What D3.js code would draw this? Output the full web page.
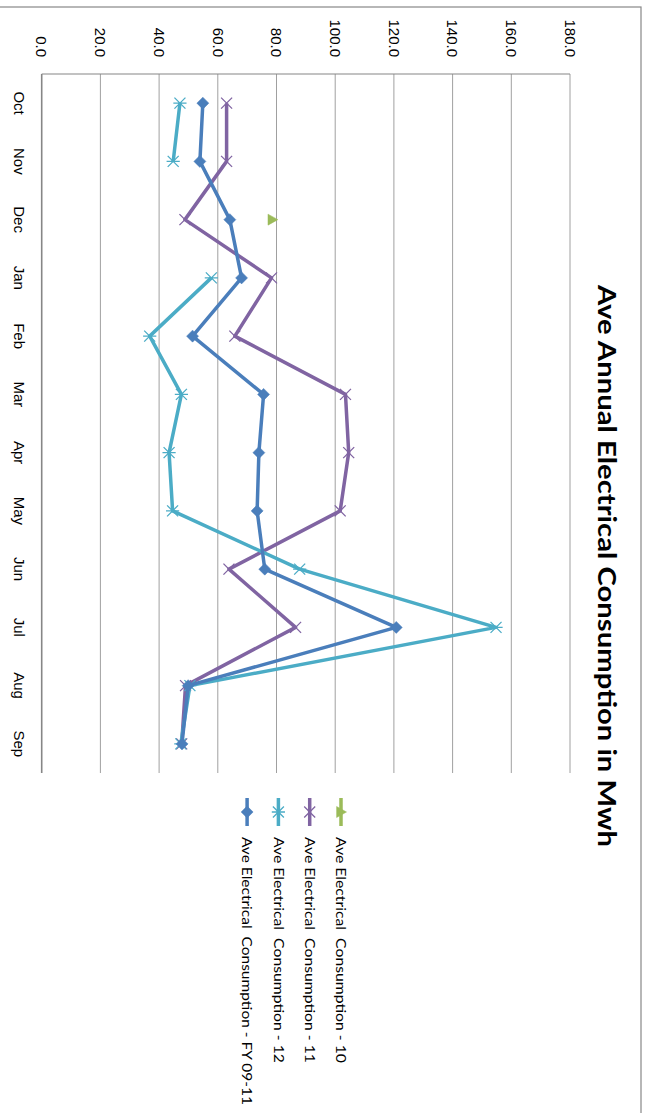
<!DOCTYPE html>
<html>
<head>
<meta charset="utf-8" />
<title>Ave Annual Electrical Consumption in Mwh</title>
<script src="https://d3js.org/d3.v7.min.js"></script>
<style>
  body { margin: 0; background: #fff; }
  svg { display: block; }
</style>
</head>
<body>
<div id="chart"></div>
<script>
// data
const months = ['Oct', 'Nov', 'Dec', 'Jan', 'Feb', 'Mar', 'Apr', 'May', 'Jun', 'Jul', 'Aug', 'Sep'];
const cons10 = [null, null, 78.6, null, null, null, null, null, null, null, null, null];
const cons11 = [63.0, 63.0, 48.8, 78.3, 65.8, 103.5, 104.6, 101.7, 63.8, 86.5, 49.0, 47.7];
const cons12 = [47.1, 44.8, null, 57.8, 36.8, 47.6, 43.4, 44.6, 87.9, 154.8, 50.5, 47.4];
const consFY = [54.9, 53.9, 64.1, 68.1, 51.4, 75.6, 74.0, 73.4, 76.0, 120.8, 49.9, 47.8];
const valueTicks = [0, 20, 40, 60, 80, 100, 120, 140, 160, 180];

const series = [
  { name: 'Ave Electrical  Consumption - 10', values: cons10, color: '#9bbb59', marker: 'triangle' },
  { name: 'Ave Electrical  Consumption - 11', values: cons11, color: '#8064a2', marker: 'x' },
  { name: 'Ave Electrical  Consumption - 12', values: cons12, color: '#4bacc6', marker: 'star' },
  { name: 'Ave Electrical  Consumption - FY 09-11', values: consFY, color: '#4a7ebb', marker: 'diamond' }
];

const width = 648;
const height = 1113;

const svg = d3.select('#chart')
  .append('svg')
  .attr('width', width)
  .attr('height', height);

// the whole chart is turned a quarter turn clockwise
// inside g: u runs down the page, v runs right-to-left
const g = svg.append('g')
  .attr('transform', `translate(${width},0) rotate(90)`);

// chart area frame
g.append('rect')
  .attr('x', 7).attr('y', 7)
  .attr('width', 1300).attr('height', 900)
  .attr('fill', 'none')
  .attr('stroke', '#888')
  .attr('stroke-width', 1.2);

const x = d3.scaleBand()
  .domain(months)
  .range([74, 773]);

const y = d3.scaleLinear()
  .domain([0, 180])
  .range([606.3, 78]);

// gridlines
g.append('g')
  .selectAll('line')
  .data(valueTicks)
  .join('line')
  .attr('x1', 74).attr('x2', 773)
  .attr('y1', d => y(d)).attr('y2', d => y(d))
  .attr('stroke', d => d === 0 ? '#868686' : '#a0a0a0')
  .attr('stroke-width', d => d === 0 ? 1.6 : 1);

// value axis line
g.append('line')
  .attr('x1', 74).attr('x2', 74)
  .attr('y1', y(0)).attr('y2', y(180))
  .attr('stroke', '#868686')
  .attr('stroke-width', 1.2);

// value tick labels
g.append('g')
  .selectAll('text')
  .data(valueTicks)
  .join('text')
  .attr('x', 57)
  .attr('y', d => y(d))
  .attr('dy', '0.35em')
  .attr('text-anchor', 'end')
  .style('font-family', '"Liberation Sans", Arial, sans-serif')
  .style('font-size', '15px')
  .attr('fill', '#000')
  .text(d => d.toFixed(1));

// category labels
g.append('g')
  .selectAll('text')
  .data(months)
  .join('text')
  .attr('x', d => x(d) + x.bandwidth() / 2)
  .attr('y', 634)
  .attr('text-anchor', 'middle')
  .style('font-family', '"Liberation Sans", Arial, sans-serif')
  .style('font-size', '15px')
  .attr('fill', '#000')
  .text(d => d);

// markers
function markerPath(type, s) {
  const p = d3.path();
  if (type === 'diamond') {
    p.moveTo(0, -s); p.lineTo(s, 0); p.lineTo(0, s); p.lineTo(-s, 0); p.closePath();
  } else if (type === 'triangle') {
    p.moveTo(0, -s); p.lineTo(s, s * 0.8); p.lineTo(-s, s * 0.8); p.closePath();
  } else if (type === 'x') {
    p.moveTo(-s, -s); p.lineTo(s, s); p.moveTo(s, -s); p.lineTo(-s, s);
  } else {
    p.moveTo(-s, -s); p.lineTo(s, s); p.moveTo(s, -s); p.lineTo(-s, s);
    p.moveTo(0, -s * 1.2); p.lineTo(0, s * 1.2);
  }
  return p.toString();
}

const line = d3.line()
  .defined(d => d.v != null)
  .x(d => x(d.m) + x.bandwidth() / 2)
  .y(d => y(d.v));

function drawMarker(sel, s, size) {
  const filled = s.marker === 'diamond' || s.marker === 'triangle';
  sel.append('path')
    .attr('d', markerPath(s.marker, size))
    .attr('fill', filled ? s.color : 'none')
    .attr('stroke', s.color)
    .attr('stroke-width', filled ? 0.5 : 1.3);
}

series.forEach(s => {
  const pts = months.map((m, i) => ({ m: m, v: s.values[i] }));
  const sg = g.append('g');
  sg.append('path')
    .datum(pts)
    .attr('d', line)
    .attr('fill', 'none')
    .attr('stroke', s.color)
    .attr('stroke-width', 3.5)
    .attr('stroke-linejoin', 'round');
  pts.filter(d => d.v != null).forEach(d => {
    const mk = sg.append('g')
      .attr('transform', `translate(${x(d.m) + x.bandwidth() / 2},${y(d.v)})`);
    drawMarker(mk, s, s.marker === 'diamond' ? 6 : 5.5);
  });
});

// title
g.append('text')
  .attr('x', 566)
  .attr('y', 50)
  .attr('text-anchor', 'middle')
  .attr('textLength', 562)
  .attr('lengthAdjust', 'spacingAndGlyphs')
  .style('font-family', 'Lato, "Open Sans", sans-serif')
  .style('font-weight', 'bold')
  .style('font-size', '24px')
  .text('Ave Annual Electrical Consumption in Mwh');

// legend
const legend = g.append('g');
series.forEach((s, i) => {
  const ly = 307 + i * 31.3;
  const item = legend.append('g');
  item.append('line')
    .attr('x1', 798).attr('x2', 826)
    .attr('y1', ly).attr('y2', ly)
    .attr('stroke', s.color)
    .attr('stroke-width', 3.5);
  const mk = item.append('g').attr('transform', `translate(812,${ly})`);
  drawMarker(mk, s, s.marker === 'diamond' ? 6 : 5.5);
  item.append('text')
    .attr('x', 837)
    .attr('y', ly)
    .attr('dy', '0.35em')
    .attr('textLength', i === 3 ? 268 : 226)
    .attr('lengthAdjust', 'spacingAndGlyphs')
    .style('white-space', 'pre')
    .style('font-family', 'Lato, "Open Sans", sans-serif')
    .style('font-size', '14px')
    .text(s.name);
});
</script>
</body>
</html>
